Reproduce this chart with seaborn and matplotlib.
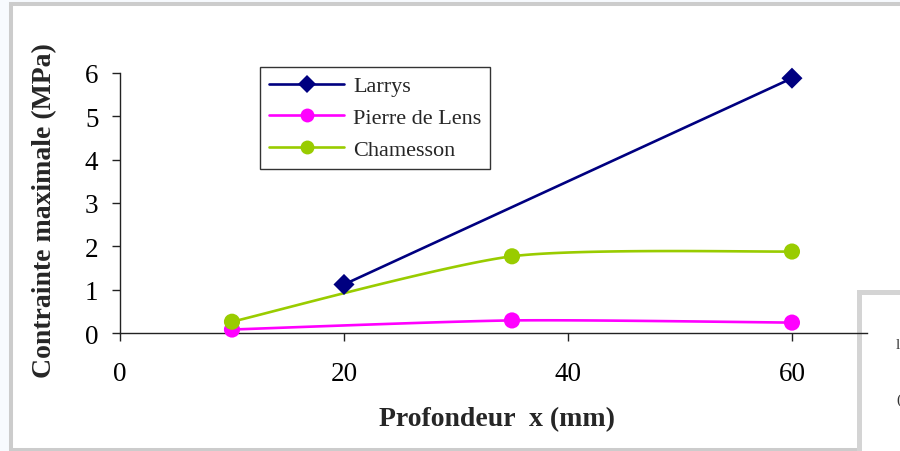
import numpy as np
import pandas as pd
import matplotlib
matplotlib.use("Agg")
import matplotlib.pyplot as plt
import seaborn as sns
from matplotlib.patches import Rectangle
from matplotlib.lines import Line2D

# ---------------- data ----------------
series_names = ["Larrys", "Pierre de Lens", "Chamesson"]
larrys_x = [20, 60]
larrys_y = [1.12, 5.88]
pierre_x = [10, 35, 60]
pierre_y = [0.08, 0.29, 0.24]
chamesson_x = [10, 35, 60]
chamesson_y = [0.26, 1.77, 1.88]
x_ticks = [0, 20, 40, 60]
y_ticks = [0, 1, 2, 3, 4, 5, 6]
x_label = "Profondeur  x (mm)"
y_label = "Contrainte maximale (MPa)"

colors = {"Larrys": "#000080", "Pierre de Lens": "#FF00FF", "Chamesson": "#99CC00"}
markers = {"Larrys": "D", "Pierre de Lens": "o", "Chamesson": "o"}
msizes = {"Larrys": 115, "Pierre de Lens": 135, "Chamesson": 135}

sns.set_theme(style="white")
plt.rcParams["font.family"] = ["Liberation Serif", "DejaVu Serif"]


def smooth(xs, ys, n=60, k=0.7):
    """Excel-like Bezier smoothing of a polyline (rendering only)."""
    P = np.column_stack([xs, ys]).astype(float)
    if len(P) < 3:
        return P[:, 0], P[:, 1]
    ext = np.vstack([P[0], P, P[-1]])
    parts = []
    t = np.linspace(0, 1, n)[:, None]
    for i in range(len(P) - 1):
        p0, p3 = ext[i + 1], ext[i + 2]
        c1 = p0 + k * (ext[i + 2] - ext[i]) / 6.0
        c2 = p3 - k * (ext[i + 3] - ext[i + 1]) / 6.0
        seg = (1 - t) ** 3 * p0 + 3 * (1 - t) ** 2 * t * c1 + 3 * (1 - t) * t ** 2 * c2 + t ** 3 * p3
        parts.append(seg if i == 0 else seg[1:])
    S = np.vstack(parts)
    return S[:, 0], S[:, 1]


W, H = 900, 452
fig = plt.figure(figsize=(W / 100, H / 100), dpi=100)
fig.patch.set_facecolor("#F7FAFE")


def fx(px):
    return px / W


def fy(py):
    return 1 - py / H


# outer chart frame
fig.patches.append(Rectangle((fx(11), fy(451)), 2.0, fy(5) - fy(451), transform=fig.transFigure,
                             facecolor="white", edgecolor="#CCCCCC", linewidth=2.9, zorder=-3))
# overlapping box at bottom right
fig.patches.append(Rectangle((fx(859), -0.5), 1.0, fy(292.5) + 0.5, transform=fig.transFigure,
                             facecolor="white", edgecolor="#D4D4D4", linewidth=3.6, zorder=-2))

ax = fig.add_axes([fx(120), fy(334), fx(867) - fx(120), fy(74) - fy(334)])
ax.set_facecolor("none")

data_sets = {
    "Larrys": (larrys_x, larrys_y),
    "Pierre de Lens": (pierre_x, pierre_y),
    "Chamesson": (chamesson_x, chamesson_y),
}

for name in ["Pierre de Lens", "Chamesson", "Larrys"]:
    xs, ys = data_sets[name]
    sx, sy = smooth(xs, ys)
    sns.lineplot(x=sx, y=sy, sort=False, estimator=None, ax=ax, color=colors[name],
                 linewidth=1.9, legend=False)
    sns.scatterplot(x=xs, y=ys, ax=ax, color=colors[name], marker=markers[name],
                    s=msizes[name], edgecolor="none", linewidth=0, legend=False, zorder=5,
                    clip_on=False)

ax.set_xlim(0, 66.7)
ax.set_ylim(0, 6)
ax.set_xticks(x_ticks)
ax.set_yticks(y_ticks)
ax.set_xticklabels([str(v) for v in x_ticks])
ax.set_yticklabels([str(v) for v in y_ticks])
for s in ["top", "right"]:
    ax.spines[s].set_visible(False)
for s in ["left", "bottom"]:
    ax.spines[s].set_color("#222222")
    ax.spines[s].set_linewidth(1.0)
ax.tick_params(axis="both", direction="out", length=5.5, width=1.0, color="#222222",
               labelsize=19.5, labelcolor="black", left=True, bottom=True)
ax.tick_params(axis="x", pad=15)
ax.tick_params(axis="y", pad=10)
ax.set_xlabel("")
ax.set_ylabel("")

fig.text(fx(497), fy(420), x_label, ha="center", va="center", fontsize=20, fontweight="bold")
fig.text(fx(45), fy(211), y_label, ha="center", va="center", rotation=90, fontsize=20,
         fontweight="bold")

handles = [Line2D([], [], color=colors[n], marker=markers[n], markersize=(9 if n == "Larrys" else 10),
                  markeredgewidth=0, linewidth=1.9) for n in series_names]
leg = ax.legend(handles, series_names, loc="upper left",
                bbox_to_anchor=(fx(260), fy(68)), bbox_transform=fig.transFigure,
                borderaxespad=0, fontsize=16, frameon=True, fancybox=False, shadow=False,
                handlelength=3.4, handletextpad=0.4, labelspacing=0.5, borderpad=0.4,
                numpoints=1)
leg.get_frame().set_edgecolor("black")
leg.get_frame().set_linewidth(1.0)
leg.get_frame().set_facecolor("white")

# partial marks from the neighbouring box
fig.text(fx(896), fy(346), "l", fontsize=11, color="#333333", ha="left", va="center")
fig.text(fx(896), fy(400), "(", fontsize=11, color="#333333", ha="left", va="center")

fig.savefig("out.png", dpi=100, facecolor=fig.get_facecolor())
